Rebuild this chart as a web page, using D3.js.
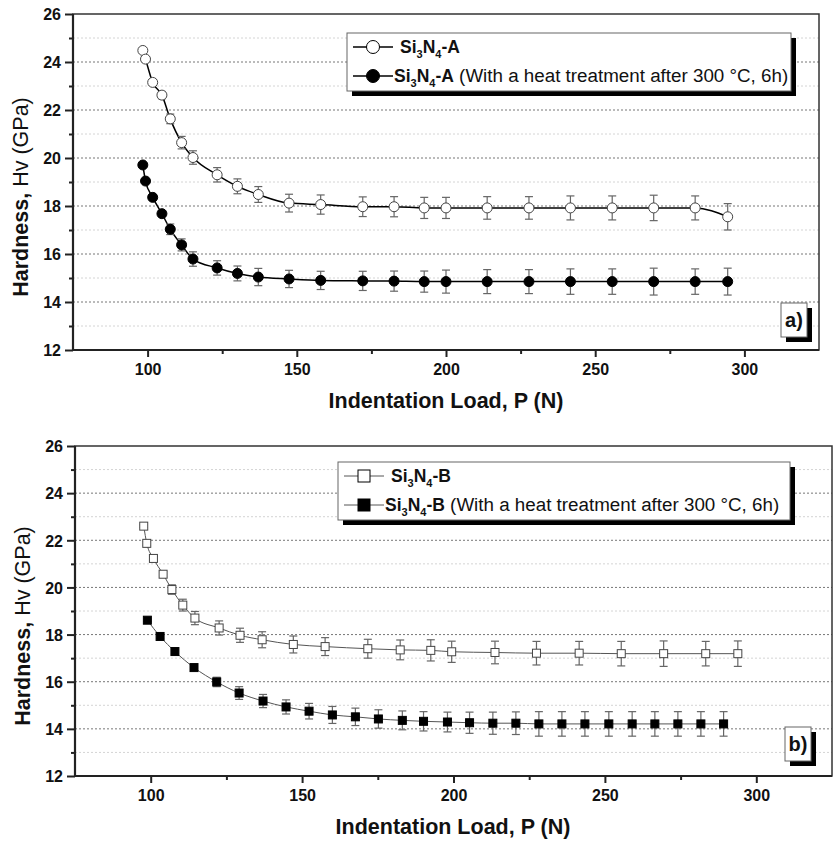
<!DOCTYPE html>
<html lang="en">
<head>
<meta charset="UTF-8">
<title>Hardness vs Indentation Load</title>
<script src="https://d3js.org/d3.v7.min.js"></script>
<style>
  body { margin: 0; background: #fff; font-family: Arial, "Liberation Sans", sans-serif; }
  svg text { font-family: Arial, "Liberation Sans", sans-serif; }
</style>
</head>
<body>
<div id="chart"></div>
<script>
// axis ticks
const xTicks = [100, 150, 200, 250, 300];
const xMinor = [125, 175, 225, 275];
const yTicks = [12, 14, 16, 18, 20, 22, 24, 26];
const yMinor = [13, 15, 17, 19, 21, 23, 25];

// panel a) - both series measured at the same loads
const loadA = [98.4, 99.3, 101.7, 104.8, 107.6, 111.4, 115.2, 123.3, 130.1, 137.1, 147.4, 158.0,
               172.1, 182.6, 192.7, 200.0, 213.8, 227.8, 241.7, 255.7, 269.6, 283.5, 294.4];
const hvA = [24.48, 24.12, 23.15, 22.62, 21.63, 20.64, 20.02, 19.30, 18.82, 18.48, 18.12, 18.06,
             17.97, 17.97, 17.92, 17.92, 17.92, 17.92, 17.92, 17.92, 17.92, 17.92, 17.55];
const errA = [0.08, 0.1, 0.12, 0.15, 0.2, 0.26, 0.28, 0.3, 0.31, 0.33, 0.37, 0.4,
              0.41, 0.42, 0.44, 0.44, 0.47, 0.47, 0.5, 0.5, 0.53, 0.5, 0.55];
const hvAHeat = [19.71, 19.04, 18.36, 17.68, 17.03, 16.38, 15.79, 15.42, 15.19, 15.04, 14.96, 14.90,
                 14.88, 14.87, 14.85, 14.85, 14.85, 14.85, 14.85, 14.85, 14.85, 14.85, 14.85];
const errAHeat = [0.06, 0.08, 0.1, 0.12, 0.22, 0.25, 0.3, 0.3, 0.31, 0.36, 0.36, 0.38,
                  0.4, 0.42, 0.44, 0.48, 0.5, 0.5, 0.53, 0.53, 0.56, 0.53, 0.56];

// panel b)
const loadB = [97.7, 98.7, 100.9, 104.1, 107.0, 110.6, 114.6, 122.6, 129.5, 136.8, 147.1, 157.6,
               171.7, 182.4, 192.5, 199.4, 213.7, 227.4, 241.5, 255.4, 269.4, 283.3, 293.9];
const hvB = [22.60, 21.87, 21.23, 20.56, 19.91, 19.25, 18.70, 18.28, 17.97, 17.78, 17.58, 17.49,
             17.40, 17.35, 17.33, 17.27, 17.24, 17.21, 17.21, 17.19, 17.19, 17.19, 17.19];
const errB = [0.05, 0.08, 0.1, 0.12, 0.2, 0.25, 0.28, 0.3, 0.3, 0.34, 0.36, 0.38,
              0.4, 0.42, 0.45, 0.45, 0.48, 0.5, 0.5, 0.52, 0.54, 0.52, 0.54];
const loadBHeat = [98.9, 103.1, 108.0, 114.3, 121.8, 129.2, 137.1, 144.7, 152.3, 160.0, 167.6, 175.2,
                   183.1, 190.1, 198.0, 205.3, 213.0, 220.6, 228.2, 235.8, 243.4, 251.3, 259.0, 266.5,
                   274.1, 281.7, 289.2];
const hvBHeat = [18.61, 17.92, 17.28, 16.60, 15.99, 15.52, 15.18, 14.93, 14.75, 14.59, 14.51, 14.42,
                 14.36, 14.32, 14.29, 14.26, 14.24, 14.24, 14.21, 14.21, 14.21, 14.21, 14.21, 14.21,
                 14.21, 14.21, 14.21];
const errBHeat = [0.05, 0.08, 0.1, 0.12, 0.2, 0.27, 0.28, 0.3, 0.33, 0.36, 0.37, 0.39,
                  0.4, 0.41, 0.42, 0.45, 0.47, 0.48, 0.52, 0.52, 0.52, 0.52, 0.52, 0.52,
                  0.52, 0.52, 0.52];

const W = 837, H = 843;
const svg = d3.select("#chart").append("svg").attr("width", W).attr("height", H);

function drawPanel(cfg) {
  const x = d3.scaleLinear().domain([75, 325]).range([cfg.left, cfg.right]);
  const y = d3.scaleLinear().domain([12, 26]).range([cfg.bottom, cfg.top]);
  const g = svg.append("g");

  // grid lines
  g.selectAll(".gminor").data(yMinor).join("line")
    .attr("x1", cfg.left).attr("x2", cfg.right)
    .attr("y1", d => y(d)).attr("y2", d => y(d))
    .attr("stroke", "#d4d4d4").attr("stroke-width", 1).attr("stroke-dasharray", "2,2");
  g.selectAll(".gmajor").data(yTicks.filter(d => d > 12 && d < 26)).join("line")
    .attr("x1", cfg.left).attr("x2", cfg.right)
    .attr("y1", d => y(d)).attr("y2", d => y(d))
    .attr("stroke", "#777").attr("stroke-width", 1).attr("stroke-dasharray", "2,2");

  // frame
  g.append("rect").attr("x", cfg.left).attr("y", cfg.top)
    .attr("width", cfg.right - cfg.left).attr("height", cfg.bottom - cfg.top)
    .attr("fill", "none").attr("stroke", "#333").attr("stroke-width", 1.5);
  g.append("line").attr("x1", cfg.left).attr("x2", cfg.right).attr("y1", cfg.bottom).attr("y2", cfg.bottom)
    .attr("stroke", "#222").attr("stroke-width", 2.2);
  g.append("line").attr("x1", cfg.left).attr("x2", cfg.left).attr("y1", cfg.top).attr("y2", cfg.bottom)
    .attr("stroke", "#222").attr("stroke-width", 2.2);

  // axes
  g.append("g").attr("transform", `translate(0,${cfg.bottom})`)
    .call(d3.axisBottom(x).tickValues(xTicks).tickSize(7).tickPadding(7).tickFormat(d3.format("d")));
  g.append("g").attr("transform", `translate(0,${cfg.bottom})`)
    .call(d3.axisBottom(x).tickValues(xMinor).tickSize(4).tickFormat(""));
  const yAxis = g.append("g").attr("transform", `translate(${cfg.left},0)`)
    .call(d3.axisLeft(y).tickValues(yTicks).tickSize(8).tickPadding(4).tickFormat(d3.format("d")));
  g.append("g").attr("transform", `translate(${cfg.left},0)`)
    .call(d3.axisLeft(y).tickValues(yMinor).tickSize(4).tickFormat(""));
  g.selectAll(".domain").remove();
  g.selectAll(".tick line").attr("stroke", "#222").attr("stroke-width", 2);
  g.selectAll(".tick text").attr("fill", "#111").attr("font-size", 16).attr("font-weight", "bold");
  yAxis.selectAll(".tick text").attr("dy", "0.36em");

  // axis titles
  g.append("text").attr("x", cfg.xTitleX).attr("y", cfg.bottom + 58)
    .attr("text-anchor", "middle").attr("font-size", 21.5).attr("font-weight", "bold").attr("fill", "#111")
    .text("Indentation Load, P (N)");
  const yt = g.append("text")
    .attr("transform", `translate(${cfg.left - 45},${(cfg.top + cfg.bottom) / 2 + 15}) rotate(-90)`)
    .attr("text-anchor", "middle").attr("font-size", 21.5).attr("fill", "#111");
  yt.append("tspan").attr("font-weight", "bold").text("Hardness, ");
  yt.append("tspan").text("Hv (GPa)");

  // series
  const line = d3.line().x(d => x(d.x)).y(d => y(d.y)).curve(d3.curveMonotoneX);
  cfg.series.forEach(s => {
    const pts = s.xs.map((v, i) => ({ x: v, y: s.ys[i], e: s.es[i] }));
    g.append("path").datum(pts).attr("d", line)
      .attr("fill", "none").attr("stroke", cfg.lineColor).attr("stroke-width", cfg.lineWidth);
    const eb = g.append("g").attr("stroke", "#666").attr("stroke-width", 1.2);
    pts.forEach(p => {
      eb.append("line").attr("x1", x(p.x)).attr("x2", x(p.x)).attr("y1", y(p.y - p.e)).attr("y2", y(p.y + p.e));
      [p.y - p.e, p.y + p.e].forEach(v => {
        eb.append("line").attr("x1", x(p.x) - 4).attr("x2", x(p.x) + 4).attr("y1", y(v)).attr("y2", y(v));
      });
    });
    const fill = s.filled ? "#000" : "#fff";
    if (cfg.shape === "circle") {
      g.selectAll(null).data(pts).join("circle")
        .attr("cx", d => x(d.x)).attr("cy", d => y(d.y)).attr("r", 5)
        .attr("fill", fill).attr("stroke", s.filled ? "#000" : "#444").attr("stroke-width", 1);
    } else {
      g.selectAll(null).data(pts).join("rect")
        .attr("x", d => x(d.x) - 4).attr("y", d => y(d.y) - 4).attr("width", 8).attr("height", 8)
        .attr("fill", fill).attr("stroke", s.filled ? "#000" : "#444").attr("stroke-width", 1);
    }
  });

  // legend
  const L = cfg.legend;
  g.append("rect").attr("x", L.x + 5).attr("y", L.y + 5).attr("width", L.w).attr("height", L.h).attr("fill", "#000");
  g.append("rect").attr("x", L.x).attr("y", L.y).attr("width", L.w).attr("height", L.h)
    .attr("fill", "#fff").attr("stroke", "#666").attr("stroke-width", 1);
  cfg.series.forEach((s, i) => {
    const ry = L.y + 14 + i * 29;
    g.append("line").attr("x1", L.x + 6).attr("x2", L.x + 46).attr("y1", ry).attr("y2", ry)
      .attr("stroke", cfg.lineColor).attr("stroke-width", cfg.lineWidth);
    const mx = L.x + 26;
    if (cfg.shape === "circle") {
      g.append("circle").attr("cx", mx).attr("cy", ry).attr("r", 6.5)
        .attr("fill", s.filled ? "#000" : "#fff").attr("stroke", "#000").attr("stroke-width", 1);
    } else {
      g.append("rect").attr("x", mx - 6).attr("y", ry - 6).attr("width", 12).attr("height", 12)
        .attr("fill", s.filled ? "#000" : "#fff").attr("stroke", "#000").attr("stroke-width", 1);
    }
    const t = g.append("text").attr("x", L.x + (i === 0 ? 53 : 47)).attr("y", ry + 6)
      .attr("font-size", 17.5).attr("fill", "#111");
    t.append("tspan").attr("font-weight", "bold").text("Si");
    t.append("tspan").attr("font-weight", "bold").attr("font-size", 11).attr("dy", 5).text("3");
    t.append("tspan").attr("font-weight", "bold").attr("dy", -5).text("N");
    t.append("tspan").attr("font-weight", "bold").attr("font-size", 11).attr("dy", 5).text("4");
    t.append("tspan").attr("font-weight", "bold").attr("dy", -5).text(s.tag);
    if (s.note) t.append("tspan").attr("font-size", 18.8).text(" " + s.note);
  });

  // panel tag
  const P = cfg.tag;
  g.append("rect").attr("x", P.x + 5).attr("y", P.y + 5).attr("width", 26).attr("height", 34).attr("fill", "#000");
  g.append("rect").attr("x", P.x).attr("y", P.y).attr("width", 26).attr("height", 34)
    .attr("fill", "#fff").attr("stroke", "#666").attr("stroke-width", 1);
  g.append("text").attr("x", P.x + 13).attr("y", P.y + 24).attr("text-anchor", "middle")
    .attr("font-size", 20).attr("font-weight", "bold").attr("fill", "#111").text(P.label);
}

const note = "(With a heat treatment after 300 °C, 6h)";

drawPanel({
  left: 73, right: 819, top: 14, bottom: 350, xTitleX: 446,
  shape: "circle", lineColor: "#000", lineWidth: 1.5,
  series: [
    { xs: loadA, ys: hvA, es: errA, filled: false, tag: "-A" },
    { xs: loadA, ys: hvAHeat, es: errAHeat, filled: true, tag: "-A", note: note }
  ],
  legend: { x: 347, y: 33, w: 444, h: 58 },
  tag: { x: 781, y: 303, label: "a)" }
});

drawPanel({
  left: 75, right: 832, top: 446, bottom: 776, xTitleX: 453,
  shape: "square", lineColor: "#555", lineWidth: 1,
  series: [
    { xs: loadB, ys: hvB, es: errB, filled: false, tag: "-B" },
    { xs: loadBHeat, ys: hvBHeat, es: errBHeat, filled: true, tag: "-B", note: note }
  ],
  legend: { x: 338, y: 462, w: 452, h: 58 },
  tag: { x: 785, y: 727, label: "b)" }
});
</script>
</body>
</html>
